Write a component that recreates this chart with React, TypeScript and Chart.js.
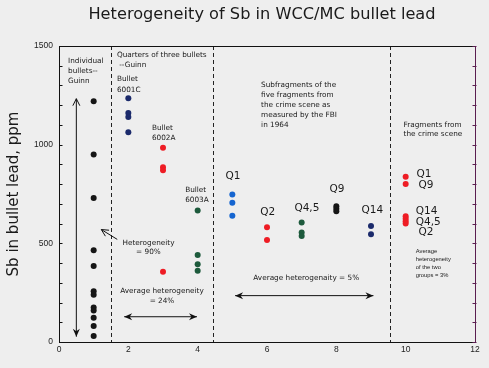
import React, { useEffect, useRef } from 'react';
import { Chart, registerables } from 'chart.js';

Chart.register(...registerables);

// ---- data ----
const groupX = [1, 2, 3, 4, 5, 6, 7, 8, 9, 10];
const individualBullets = [1220, 950, 730, 465, 385, 257, 240, 175, 160, 123, 81, 30];
const bullet6001C = [1235, 1160, 1140, 1063];
const bullet6002A = [985, 885, 870, 356];
const bullet6003A = [667, 441, 394, 361];
const fragQ1 = [748, 706, 640];
const fragQ2 = [581, 517];
const fragQ45 = [605, 555, 537];
const fragQ9 = [688, 675, 662];
const fragQ14 = [588, 546];
const crimeScene = [838, 801, 637, 625, 612, 600];

const xTickStep = 2;
const yTickStep = 100;
const yTickLabels = [0, 500, 1000, 1500];
const dividers = [1.5, 4.45, 9.55];

const seriesValues = [
  individualBullets, bullet6001C, bullet6002A, bullet6003A,
  fragQ1, fragQ2, fragQ45, fragQ9, fragQ14, crimeScene,
];
const seriesColors = [
  '#151515', '#1b2a6b', '#ee1c24', '#1d5a3c',
  '#1565d0', '#ee1c24', '#1d5a3c', '#151515', '#1b2a6b', '#ee1c24',
];

// ---- annotations (positions in data units) ----
type Note = { lines: string[]; x: number; y: number; font: string; lh: number; align: CanvasTextAlign };
const SMALL = '7.3px "DejaVu Sans"';
const QF = '10.5px "DejaVu Sans"';
const TINY = '5.8px "Liberation Sans"';
const notes: Note[] = [
  { lines: ['Individual', 'bullets--', 'Guinn'], x: 0.26, y: 1424, font: SMALL, lh: 10, align: 'left' },
  { lines: ['Quarters of three bullets', ' --Guinn'], x: 1.67, y: 1454, font: SMALL, lh: 10, align: 'left' },
  { lines: ['Bullet', '6001C'], x: 1.67, y: 1331, font: SMALL, lh: 10.5, align: 'left' },
  { lines: ['Bullet', '6002A'], x: 2.68, y: 1083, font: SMALL, lh: 10, align: 'left' },
  { lines: ['Bullet', '6003A'], x: 3.64, y: 769, font: SMALL, lh: 9.7, align: 'left' },
  { lines: ['Heterogeneity', '= 90%'], x: 2.58, y: 503, font: SMALL, lh: 9.5, align: 'center' },
  { lines: ['Average heterogeneity', '= 24%'], x: 2.97, y: 260, font: SMALL, lh: 10, align: 'center' },
  {
    lines: ['Subfragments of the', 'five fragments from', 'the crime scene as', 'measured by the FBI', 'in 1964'],
    x: 5.83, y: 1302, font: SMALL, lh: 10, align: 'left',
  },
  { lines: ['Average heterogenaity = 5%'], x: 7.13, y: 326, font: SMALL, lh: 10, align: 'center' },
  { lines: ['Fragments from', 'the crime scene'], x: 9.94, y: 1101, font: SMALL, lh: 9.5, align: 'left' },
  { lines: ['Average', 'heterogeneity', 'of the two', 'groups = 3%'], x: 10.29, y: 458, font: TINY, lh: 8, align: 'left' },
  { lines: ['Q1'], x: 5.02, y: 838, font: QF, lh: 11, align: 'center' },
  { lines: ['Q2'], x: 6.02, y: 657, font: QF, lh: 11, align: 'center' },
  { lines: ['Q4,5'], x: 7.15, y: 678, font: QF, lh: 11, align: 'center' },
  { lines: ['Q9'], x: 8.02, y: 774, font: QF, lh: 11, align: 'center' },
  { lines: ['Q14'], x: 9.04, y: 669, font: QF, lh: 11, align: 'center' },
  { lines: ['Q1'], x: 10.31, y: 850, font: QF, lh: 11, align: 'left' },
  { lines: ['Q9'], x: 10.37, y: 796, font: QF, lh: 11, align: 'left' },
  { lines: ['Q14', 'Q4,5'], x: 10.29, y: 664, font: QF, lh: 11.3, align: 'left' },
  { lines: ['Q2'], x: 10.37, y: 556, font: QF, lh: 11, align: 'left' },
];

type Arrow = { from: [number, number]; to: [number, number]; both: boolean; filled: boolean };
const arrows: Arrow[] = [
  { from: [0.5, 1233], to: [0.5, 27], both: true, filled: true },
  { from: [1.88, 128], to: [3.98, 128], both: true, filled: true },
  { from: [5.08, 235], to: [9.07, 235], both: true, filled: true },
  { from: [1.68, 520], to: [1.22, 570], both: false, filled: false },
];

const TITLE = 'Heterogeneity of Sb in WCC/MC bullet lead';
const Y_TITLE = 'Sb in bullet lead, ppm';

function head(ctx: CanvasRenderingContext2D, fx: number, fy: number, tx: number, ty: number, filled: boolean) {
  const ang = Math.atan2(ty - fy, tx - fx);
  const len = filled ? 8 : 7;
  const half = 3.5;
  const bx = tx - len * Math.cos(ang);
  const by = ty - len * Math.sin(ang);
  const px = -Math.sin(ang) * half;
  const py = Math.cos(ang) * half;
  ctx.beginPath();
  if (filled) {
    ctx.moveTo(tx, ty);
    ctx.lineTo(bx + px, by + py);
    ctx.lineTo(tx - (len - 2.5) * Math.cos(ang), ty - (len - 2.5) * Math.sin(ang));
    ctx.lineTo(bx - px, by - py);
    ctx.closePath();
    ctx.fill();
  } else {
    ctx.moveTo(bx + px, by + py);
    ctx.lineTo(tx, ty);
    ctx.lineTo(bx - px, by - py);
    ctx.stroke();
  }
}

const decorPlugin = {
  id: 'decor',
  beforeDraw(chart: any) {
    const { ctx, width, height } = chart;
    ctx.save();
    ctx.fillStyle = '#eeeeee';
    ctx.fillRect(0, 0, width, height);
    ctx.restore();
  },
  beforeDatasetsDraw(chart: any) {
    const { ctx, chartArea, scales } = chart;
    const x = scales.x;
    ctx.save();
    ctx.strokeStyle = '#222';
    ctx.lineWidth = 1;
    ctx.setLineDash([4, 3]);
    dividers.forEach((d) => {
      const px = Math.round(x.getPixelForValue(d)) + 0.5;
      ctx.beginPath();
      ctx.moveTo(px, chartArea.top);
      ctx.lineTo(px, chartArea.bottom);
      ctx.stroke();
    });
    ctx.restore();
  },
  afterDraw(chart: any) {
    const { ctx, chartArea, scales } = chart;
    const x = scales.x;
    const y = scales.y;
    ctx.save();
    const top = Math.round(chartArea.top) + 0.5;
    const right = Math.round(chartArea.right) + 0.5;
    const left = Math.round(chartArea.left) + 0.5;
    ctx.strokeStyle = '#111';
    ctx.lineWidth = 1;
    ctx.beginPath();
    ctx.moveTo(chartArea.left, top);
    ctx.lineTo(chartArea.right, top);
    ctx.stroke();
    ctx.strokeStyle = '#5a1e50';
    ctx.beginPath();
    ctx.moveTo(right, chartArea.top);
    ctx.lineTo(right, chartArea.bottom);
    ctx.stroke();
    y.ticks.forEach((t: any) => {
      const py = Math.round(y.getPixelForValue(t.value)) + 0.5;
      ctx.strokeStyle = '#111';
      ctx.beginPath();
      ctx.moveTo(left, py);
      ctx.lineTo(left + 3, py);
      ctx.stroke();
      ctx.strokeStyle = '#5a1e50';
      ctx.beginPath();
      ctx.moveTo(right - 3, py);
      ctx.lineTo(right + 1, py);
      ctx.stroke();
    });

    ctx.fillStyle = '#1a1a1a';
    ctx.textBaseline = 'middle';
    notes.forEach((n) => {
      ctx.font = n.font;
      ctx.textAlign = n.align;
      const px = x.getPixelForValue(n.x);
      const py = y.getPixelForValue(n.y);
      n.lines.forEach((l, i) => ctx.fillText(l, px, py + i * n.lh));
    });

    ctx.strokeStyle = '#111';
    ctx.fillStyle = '#111';
    ctx.lineWidth = 1;
    arrows.forEach((a) => {
      const fx = x.getPixelForValue(a.from[0]);
      const fy = y.getPixelForValue(a.from[1]);
      const tx = x.getPixelForValue(a.to[0]);
      const ty = y.getPixelForValue(a.to[1]);
      ctx.beginPath();
      ctx.moveTo(fx, fy);
      ctx.lineTo(tx, ty);
      ctx.stroke();
      head(ctx, fx, fy, tx, ty, a.filled);
      if (a.both) head(ctx, tx, ty, fx, fy, a.filled && a.from[0] !== a.to[0]);
    });

    ctx.fillStyle = '#1a1a1a';
    ctx.font = '16.2px "DejaVu Sans"';
    ctx.textAlign = 'center';
    ctx.textBaseline = 'middle';
    ctx.fillText(TITLE, 262, 15);
    ctx.translate(14, (chartArea.top + chartArea.bottom) / 2);
    ctx.rotate(-Math.PI / 2);
    ctx.font = '15px "DejaVu Sans"';
    ctx.fillText(Y_TITLE, 0, 0);
    ctx.restore();
  },
};

export default function App() {
  const ref = useRef<HTMLCanvasElement | null>(null);
  useEffect(() => {
    if (!ref.current) return;
    const datasets = seriesValues.map((vals, i) => ({
      data: vals.map((v) => ({ x: groupX[i], y: v })),
      backgroundColor: seriesColors[i],
      borderWidth: 0,
      pointRadius: 3,
      showLine: false,
    }));
    const tickFont = { family: 'Liberation Sans', size: 8.5 };
    const chart = new Chart(ref.current, {
      type: 'scatter',
      data: { datasets },
      plugins: [decorPlugin],
      options: {
        animation: false,
        responsive: false,
        events: [],
        layout: { padding: { top: 46, right: 14, left: 0, bottom: 0 } },
        plugins: { legend: { display: false }, tooltip: { enabled: false }, title: { display: false } },
        scales: {
          x: {
            type: 'linear',
            min: 0,
            max: 12,
            ticks: { stepSize: xTickStep, autoSkip: false, font: tickFont, color: '#222', padding: 3, maxRotation: 0 },
            grid: { display: false, drawTicks: false },
            border: { display: true, color: '#111', width: 1 },
            afterFit: (s: any) => { s.height = 26; },
          },
          y: {
            type: 'linear',
            min: 0,
            max: 1500,
            ticks: {
              stepSize: yTickStep,
              autoSkip: false,
              font: tickFont,
              color: '#222',
              padding: 6,
              callback: (v: any) => (yTickLabels.includes(Number(v)) ? String(v) : ''),
            },
            grid: { display: false, drawTicks: false },
            border: { display: true, color: '#111', width: 1 },
            afterFit: (s: any) => { s.width = 59; },
          },
        },
      },
    } as any);
    return () => chart.destroy();
  }, []);
  return (
    <div style={{ position: 'fixed', left: 0, top: 0, width: 489, height: 368, background: '#eeeeee' }}>
      <canvas ref={ref} width={489} height={368} style={{ width: 489, height: 368, display: 'block' }} />
    </div>
  );
}
